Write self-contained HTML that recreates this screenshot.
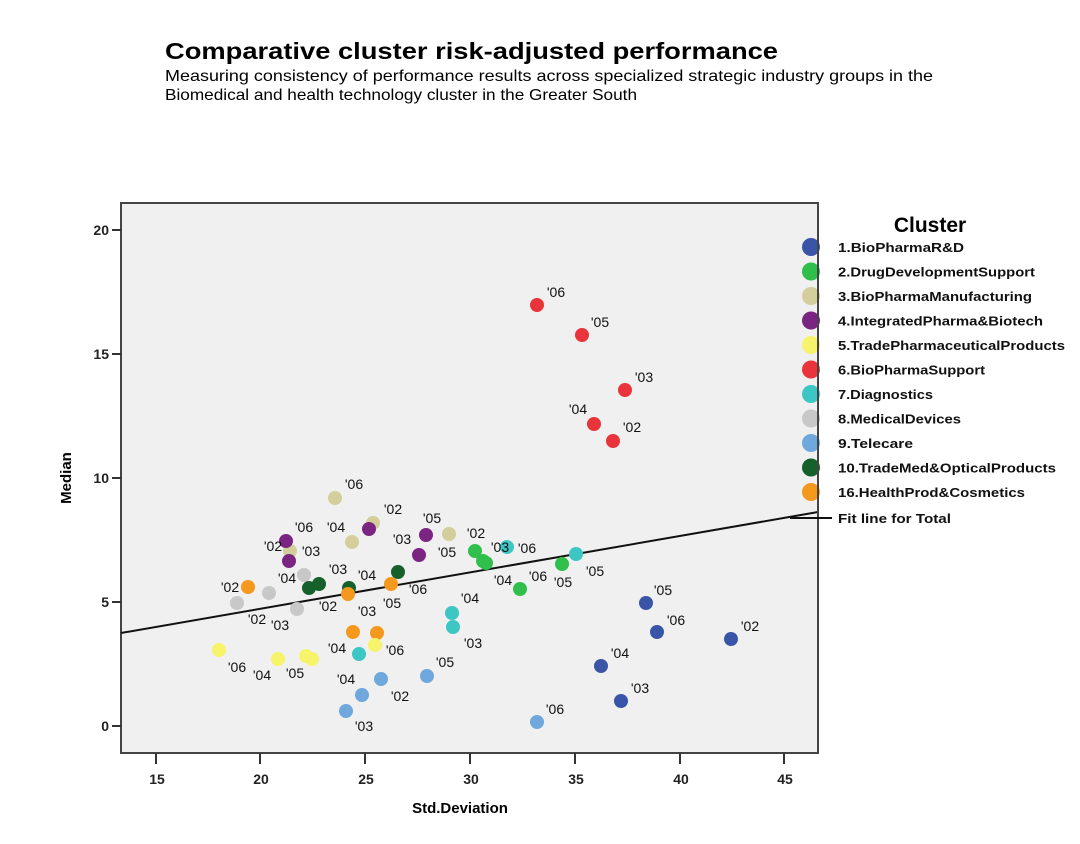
<!DOCTYPE html>
<html><head><meta charset="utf-8"><style>
html,body{margin:0;padding:0;background:#fff;}
svg{display:block;}
text{font-family:"Liberation Sans",sans-serif;}
</style></head><body>
<svg width="1080" height="844" viewBox="0 0 1080 844" xmlns="http://www.w3.org/2000/svg">
<rect width="1080" height="844" fill="#fff"/>
<text x="165" y="59" font-size="23" font-weight="bold" textLength="613" lengthAdjust="spacingAndGlyphs">Comparative  cluster risk-adjusted performance</text>
<text x="165" y="81" font-size="16" textLength="768" lengthAdjust="spacingAndGlyphs">Measuring consistency of performance results across specialized strategic industry groups in the</text>
<text x="165" y="100" font-size="16" textLength="472" lengthAdjust="spacingAndGlyphs">Biomedical and health technology cluster in the Greater South</text>

<rect x="121" y="203" width="697" height="550" fill="#f0f0f0" stroke="#444" stroke-width="2"/>
<g stroke="#333" stroke-width="2">
<line x1="112" y1="230" x2="121" y2="230"/><line x1="112" y1="354" x2="121" y2="354"/><line x1="112" y1="478" x2="121" y2="478"/><line x1="112" y1="602" x2="121" y2="602"/><line x1="112" y1="726" x2="121" y2="726"/>
<line x1="156" y1="753" x2="156" y2="764"/><line x1="260" y1="753" x2="260" y2="764"/><line x1="365" y1="753" x2="365" y2="764"/><line x1="470" y1="753" x2="470" y2="764"/><line x1="575" y1="753" x2="575" y2="764"/><line x1="680" y1="753" x2="680" y2="764"/><line x1="784" y1="753" x2="784" y2="764"/>
</g>
<g font-size="14" font-weight="bold" fill="#222" text-anchor="end">
<text x="109" y="235">20</text><text x="109" y="359">15</text><text x="109" y="483">10</text><text x="109" y="607">5</text><text x="109" y="731">0</text>
</g>
<g font-size="14" font-weight="bold" fill="#222" text-anchor="middle">
<text x="157" y="784">15</text><text x="261" y="784">20</text><text x="366" y="784">25</text><text x="471" y="784">30</text><text x="576" y="784">35</text><text x="681" y="784">40</text><text x="785" y="784">45</text>
</g>
<text x="460" y="813" font-size="15" font-weight="bold" text-anchor="middle">Std.Deviation</text>
<text transform="translate(71,478) rotate(-90)" font-size="15" font-weight="bold" text-anchor="middle">Median</text>

<line x1="121" y1="633" x2="818" y2="512" stroke="#111" stroke-width="2"/>

<g>
<g fill="#d3ce9c"><circle cx="335" cy="498" r="7"/><circle cx="373" cy="523" r="7"/><circle cx="352" cy="542" r="7"/><circle cx="290" cy="551" r="7"/><circle cx="449" cy="534" r="7"/></g>
<g fill="#c8c8c8"><circle cx="237" cy="603" r="7"/><circle cx="269" cy="593" r="7"/><circle cx="304" cy="575" r="7"/><circle cx="297" cy="609" r="7"/></g>
<g fill="#7b2582"><circle cx="286" cy="541" r="7"/><circle cx="289" cy="561" r="7"/><circle cx="369" cy="529" r="7"/><circle cx="426" cy="535" r="7"/><circle cx="419" cy="555" r="7"/></g>
<g fill="#15602b"><circle cx="309" cy="588" r="7"/><circle cx="319" cy="584" r="7"/><circle cx="349" cy="588" r="7"/><circle cx="398" cy="572" r="7"/></g>
<g fill="#f5981e"><circle cx="248" cy="587" r="7"/><circle cx="348" cy="594" r="7"/><circle cx="391" cy="584" r="7"/><circle cx="353" cy="632" r="7"/><circle cx="377" cy="633" r="7"/></g>
<g fill="#f7f36a"><circle cx="219" cy="650" r="7"/><circle cx="278" cy="659" r="7"/><circle cx="306" cy="656" r="7"/><circle cx="312" cy="659" r="7"/><circle cx="375" cy="645" r="7"/></g>
<g fill="#2fbf4a"><circle cx="475" cy="551" r="7"/><circle cx="483" cy="561" r="7"/><circle cx="486" cy="563" r="7"/><circle cx="562" cy="564" r="7"/><circle cx="520" cy="589" r="7"/></g>
<g fill="#3cc6c4"><circle cx="507" cy="547" r="7"/><circle cx="576" cy="554" r="7"/><circle cx="452" cy="613" r="7"/><circle cx="453" cy="627" r="7"/><circle cx="359" cy="654" r="7"/></g>
<g fill="#6fa8dc"><circle cx="427" cy="676" r="7"/><circle cx="537" cy="722" r="7"/><circle cx="381" cy="679" r="7"/><circle cx="362" cy="695" r="7"/><circle cx="346" cy="711" r="7"/></g>
<g fill="#e8343a"><circle cx="537" cy="305" r="7"/><circle cx="582" cy="335" r="7"/><circle cx="625" cy="390" r="7"/><circle cx="594" cy="424" r="7"/><circle cx="613" cy="441" r="7"/></g>
<g fill="#3a55a8"><circle cx="646" cy="603" r="7"/><circle cx="657" cy="632" r="7"/><circle cx="731" cy="639" r="7"/><circle cx="601" cy="666" r="7"/><circle cx="621" cy="701" r="7"/></g>
</g>

<g font-size="14" fill="#111" text-anchor="middle">
<text x="556" y="297">'06</text><text x="600" y="327">'05</text><text x="644" y="382">'03</text><text x="578" y="414">'04</text><text x="632" y="432">'02</text>
<text x="663" y="595">'05</text><text x="676" y="625">'06</text><text x="750" y="631">'02</text><text x="620" y="658">'04</text><text x="640" y="693">'03</text>
<text x="476" y="538">'02</text><text x="503" y="585">'04</text><text x="538" y="581">'06</text><text x="563" y="587">'05</text>
<text x="500" y="552">'03</text><text x="527" y="553">'06</text><text x="595" y="576">'05</text><text x="470" y="603">'04</text><text x="473" y="648">'03</text>
<text x="445" y="667">'05</text><text x="555" y="714">'06</text><text x="400" y="701">'02</text><text x="346" y="684">'04</text><text x="364" y="731">'03</text>
<text x="273" y="551">'02</text><text x="304" y="532">'06</text><text x="336" y="532">'04</text><text x="432" y="523">'05</text><text x="402" y="544">'03</text><text x="447" y="557">'05</text>
<text x="354" y="489">'06</text><text x="393" y="514">'02</text><text x="311" y="556">'03</text>
<text x="237" y="672">'06</text><text x="262" y="680">'04</text><text x="295" y="678">'05</text><text x="395" y="655">'06</text>
<text x="230" y="592">'02</text><text x="392" y="608">'05</text><text x="337" y="653">'04</text>
<text x="257" y="624">'02</text><text x="287" y="583">'04</text><text x="280" y="630">'03</text>
<text x="338" y="574">'03</text><text x="367" y="580">'04</text><text x="328" y="611">'02</text><text x="418" y="594">'06</text><text x="367" y="616">'03</text>
</g>

<text x="930" y="232" font-size="21" font-weight="bold" text-anchor="middle">Cluster</text>
<g font-size="13" font-weight="bold" fill="#111">
<circle cx="811" cy="247" r="9" fill="#3a55a8"/><text x="838" y="252" textLength="126" lengthAdjust="spacingAndGlyphs">1.BioPharmaR&amp;D</text>
<circle cx="811" cy="271.5" r="9" fill="#2fbf4a"/><text x="838" y="276.5" textLength="197" lengthAdjust="spacingAndGlyphs">2.DrugDevelopmentSupport</text>
<circle cx="811" cy="296" r="9" fill="#d3ce9c"/><text x="838" y="301" textLength="194" lengthAdjust="spacingAndGlyphs">3.BioPharmaManufacturing</text>
<circle cx="811" cy="320.5" r="9" fill="#7b2582"/><text x="838" y="325.5" textLength="205" lengthAdjust="spacingAndGlyphs">4.IntegratedPharma&amp;Biotech</text>
<circle cx="811" cy="345" r="9" fill="#f7f36a"/><text x="838" y="350" textLength="227" lengthAdjust="spacingAndGlyphs">5.TradePharmaceuticalProducts</text>
<circle cx="811" cy="369.5" r="9" fill="#e8343a"/><text x="838" y="374.5" textLength="147" lengthAdjust="spacingAndGlyphs">6.BioPharmaSupport</text>
<circle cx="811" cy="394" r="9" fill="#3cc6c4"/><text x="838" y="399" textLength="95" lengthAdjust="spacingAndGlyphs">7.Diagnostics</text>
<circle cx="811" cy="418.5" r="9" fill="#c8c8c8"/><text x="838" y="423.5" textLength="123" lengthAdjust="spacingAndGlyphs">8.MedicalDevices</text>
<circle cx="811" cy="443" r="9" fill="#6fa8dc"/><text x="838" y="448" textLength="75" lengthAdjust="spacingAndGlyphs">9.Telecare</text>
<circle cx="811" cy="467.5" r="9" fill="#15602b"/><text x="838" y="472.5" textLength="218" lengthAdjust="spacingAndGlyphs">10.TradeMed&amp;OpticalProducts</text>
<circle cx="811" cy="492" r="9" fill="#f5981e"/><text x="838" y="497" textLength="187" lengthAdjust="spacingAndGlyphs">16.HealthProd&amp;Cosmetics</text>
<text x="838" y="523" textLength="113" lengthAdjust="spacingAndGlyphs">Fit line for Total</text>
</g>
<line x1="818" y1="203" x2="818" y2="753" stroke="#444" stroke-width="2"/>
<line x1="790" y1="518" x2="832" y2="518" stroke="#111" stroke-width="2"/>
</svg>
</body></html>
